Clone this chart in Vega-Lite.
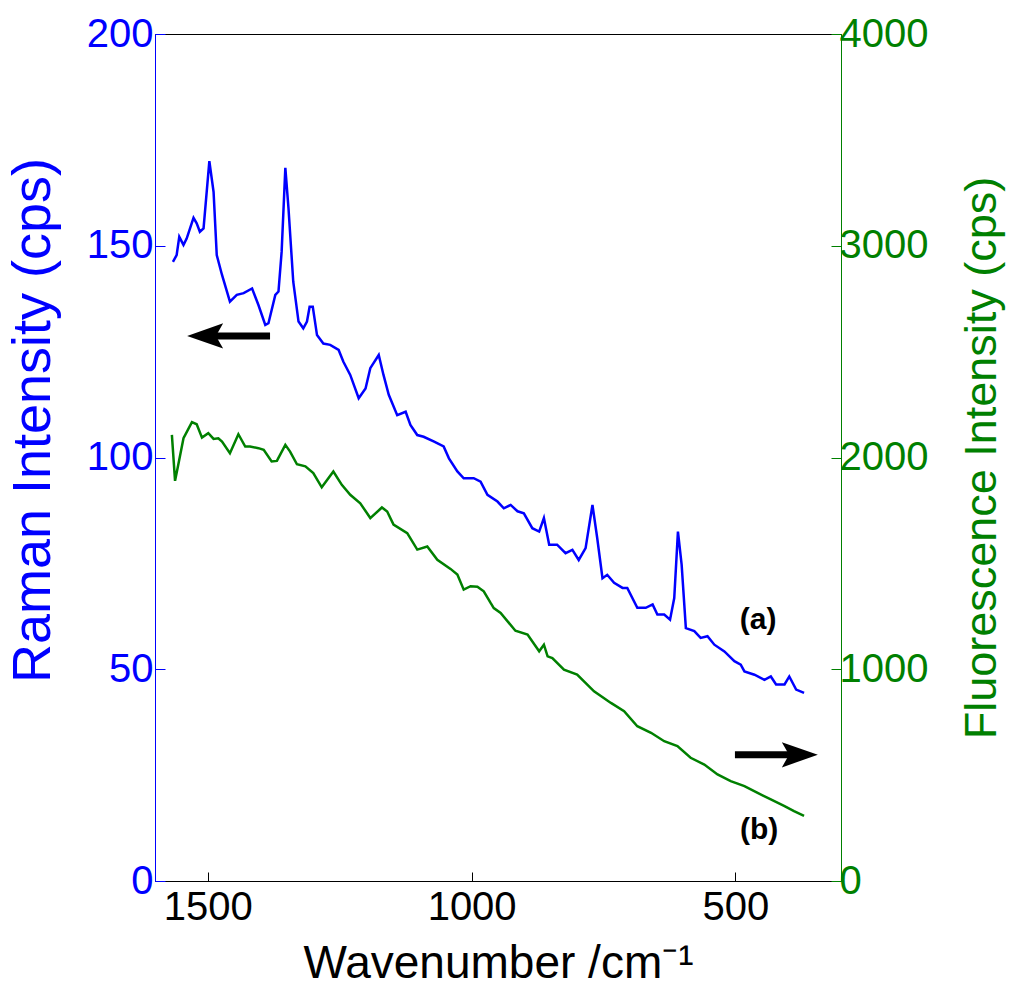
{
  "$schema": "https://vega.github.io/schema/vega-lite/v6.json",
  "width": 686,
  "height": 847,
  "autosize": {"type": "none"},
  "padding": {"left": 155, "top": 34, "right": 169, "bottom": 113},
  "background": "white",
  "config": {
    "view": {"stroke": "black", "strokeWidth": 1},
    "font": "Liberation Sans",
    "axis": {"grid": false, "labelFont": "Liberation Sans", "titleFont": "Liberation Sans", "titleFontWeight": "normal"}
  },
  "datasets": {
    "raman": [
      {"wn":1566,"val":146.2},{"wn":1559,"val":147.8},{"wn":1554,"val":152.1},{"wn":1546,"val":150.2},{"wn":1540,"val":151.7},{"wn":1527,"val":156.6},{"wn":1521,"val":155.3},{"wn":1515,"val":153.3},{"wn":1508,"val":154.1},{"wn":1497,"val":170.0},{"wn":1489,"val":162.7},{"wn":1483,"val":147.8},{"wn":1473,"val":143.1},{"wn":1458,"val":136.8},{"wn":1445,"val":138.4},{"wn":1432,"val":138.8},{"wn":1416,"val":139.9},{"wn":1404,"val":136.0},{"wn":1391,"val":131.3},{"wn":1385,"val":131.7},{"wn":1372,"val":138.4},{"wn":1366,"val":139.2},{"wn":1360,"val":148.6},{"wn":1353,"val":168.4},{"wn":1347,"val":158.8},{"wn":1338,"val":141.5},{"wn":1328,"val":132.1},{"wn":1319,"val":130.5},{"wn":1312,"val":132.1},{"wn":1307,"val":135.6},{"wn":1301,"val":135.6},{"wn":1293,"val":128.9},{"wn":1281,"val":126.9},{"wn":1268,"val":126.6},{"wn":1252,"val":125.4},{"wn":1243,"val":122.6},{"wn":1230,"val":119.5},{"wn":1214,"val":114.0},{"wn":1201,"val":116.3},{"wn":1192,"val":121.1},{"wn":1176,"val":124.2},{"wn":1167,"val":119.5},{"wn":1157,"val":114.8},{"wn":1141,"val":110.0},{"wn":1125,"val":110.8},{"wn":1116,"val":107.7},{"wn":1103,"val":105.3},{"wn":1091,"val":104.9},{"wn":1072,"val":103.8},{"wn":1053,"val":102.6},{"wn":1043,"val":99.8},{"wn":1027,"val":96.7},{"wn":1015,"val":95.1},{"wn":996,"val":95.1},{"wn":983,"val":94.3},{"wn":970,"val":91.2},{"wn":951,"val":89.6},{"wn":939,"val":88.0},{"wn":926,"val":88.8},{"wn":913,"val":87.3},{"wn":901,"val":86.8},{"wn":885,"val":83.3},{"wn":872,"val":82.5},{"wn":863,"val":85.7},{"wn":853,"val":79.4},{"wn":838,"val":79.4},{"wn":822,"val":77.4},{"wn":809,"val":78.2},{"wn":797,"val":75.8},{"wn":784,"val":78.6},{"wn":771,"val":88.8},{"wn":762,"val":81.0},{"wn":752,"val":71.5},{"wn":743,"val":72.3},{"wn":730,"val":70.4},{"wn":714,"val":69.2},{"wn":705,"val":69.2},{"wn":686,"val":64.5},{"wn":670,"val":64.5},{"wn":657,"val":65.3},{"wn":648,"val":62.9},{"wn":635,"val":62.9},{"wn":624,"val":61.7},{"wn":616,"val":66.8},{"wn":609,"val":82.5},{"wn":602,"val":74.7},{"wn":594,"val":59.7},{"wn":578,"val":59.0},{"wn":566,"val":57.4},{"wn":553,"val":57.8},{"wn":540,"val":55.8},{"wn":521,"val":54.2},{"wn":502,"val":51.9},{"wn":490,"val":51.1},{"wn":483,"val":49.5},{"wn":464,"val":48.7},{"wn":445,"val":47.5},{"wn":433,"val":48.3},{"wn":423,"val":46.4},{"wn":407,"val":46.4},{"wn":398,"val":48.3},{"wn":385,"val":45.2},{"wn":370,"val":44.4}
    ],
    "fluor": [
      {"wn":1568,"val":2107},{"wn":1562,"val":1890},{"wn":1556,"val":1965},{"wn":1546,"val":2091},{"wn":1530,"val":2167},{"wn":1521,"val":2157},{"wn":1511,"val":2094},{"wn":1499,"val":2115},{"wn":1489,"val":2088},{"wn":1480,"val":2091},{"wn":1473,"val":2075},{"wn":1458,"val":2020},{"wn":1442,"val":2110},{"wn":1429,"val":2052},{"wn":1420,"val":2052},{"wn":1404,"val":2044},{"wn":1394,"val":2036},{"wn":1379,"val":1981},{"wn":1369,"val":1984},{"wn":1353,"val":2060},{"wn":1344,"val":2028},{"wn":1331,"val":1968},{"wn":1315,"val":1958},{"wn":1300,"val":1926},{"wn":1284,"val":1859},{"wn":1262,"val":1934},{"wn":1246,"val":1871},{"wn":1230,"val":1824},{"wn":1211,"val":1784},{"wn":1192,"val":1714},{"wn":1170,"val":1764},{"wn":1160,"val":1745},{"wn":1148,"val":1683},{"wn":1122,"val":1643},{"wn":1103,"val":1565},{"wn":1084,"val":1580},{"wn":1065,"val":1517},{"wn":1040,"val":1474},{"wn":1027,"val":1447},{"wn":1015,"val":1376},{"wn":1002,"val":1392},{"wn":989,"val":1390},{"wn":977,"val":1368},{"wn":964,"val":1313},{"wn":958,"val":1289},{"wn":945,"val":1266},{"wn":917,"val":1182},{"wn":894,"val":1164},{"wn":872,"val":1085},{"wn":863,"val":1116},{"wn":856,"val":1061},{"wn":847,"val":1053},{"wn":825,"val":998},{"wn":800,"val":975},{"wn":768,"val":896},{"wn":736,"val":841},{"wn":711,"val":802},{"wn":686,"val":731},{"wn":660,"val":700},{"wn":635,"val":660},{"wn":610,"val":637},{"wn":585,"val":582},{"wn":559,"val":550},{"wn":534,"val":503},{"wn":509,"val":472},{"wn":483,"val":448},{"wn":458,"val":416},{"wn":433,"val":385},{"wn":407,"val":354},{"wn":389,"val":330},{"wn":370,"val":307}
    ],
    "shafts": [
      {"wn":1486,"wn2":1382,"val":128.7},
      {"wn":501,"wn2":387,"val":29.8}
    ],
    "heads": [
      {"wn":1505,"val":128.7,"dir":"left"},
      {"wn":378,"val":29.8,"dir":"right"}
    ],
    "labels": [
      {"wn":457,"val":61.6,"label":"(a)"},
      {"wn":455,"val":12.0,"label":"(b)"}
    ]
  },
  "encoding": {
    "x": {
      "field": "wn", "type": "quantitative",
      "scale": {"domain": [300, 1600], "reverse": true, "nice": false, "zero": false},
      "axis": {
        "orient": "bottom", "title": "Wavenumber /cm⁻¹", "values": [500, 1000, 1500], "format": "d",
        "domainColor": "black", "tickColor": "black", "tickSize": -9, "labelColor": "black",
        "labelFontSize": 40, "labelPadding": 15, "titleFontSize": 46, "titleColor": "black", "titlePadding": 14
      }
    }
  },
  "layer": [
    {
      "encoding": {
        "y": {
          "field": "val", "type": "quantitative",
          "scale": {"domain": [0, 200], "nice": false},
          "axis": {
            "orient": "left", "title": "Raman Intensity (cps)", "values": [0, 50, 100, 150, 200], "format": "d",
            "domainColor": "#0000FF", "tickColor": "#0000FF", "tickSize": -10, "labelColor": "#0000FF",
            "labelFontSize": 40, "labelPadding": 12, "titleFontSize": 54, "titleColor": "#0000FF",
            "titlePadding": 26, "titleY": 386
          }
        }
      },
      "layer": [
        {"data": {"name": "raman"}, "mark": {"type": "line", "color": "#0000FF", "strokeWidth": 2.5}},
        {"data": {"name": "shafts"}, "mark": {"type": "rule", "color": "black", "strokeWidth": 7},
         "encoding": {"x2": {"field": "wn2"}}},
        {"data": {"name": "heads"}, "mark": {"type": "point", "filled": true, "color": "black", "opacity": 1, "size": 1296},
         "encoding": {"shape": {"field": "dir", "type": "nominal", "legend": null,
           "scale": {"domain": ["left", "right"], "range": ["M -1 0 L 1 -0.7 L 0.6 0 L 1 0.7 Z", "M 1 0 L -1 -0.7 L -0.6 0 L -1 0.7 Z"]}}}},
        {"data": {"name": "labels"}, "mark": {"type": "text", "font": "Liberation Sans", "fontSize": 30, "fontWeight": "bold", "color": "black"},
         "encoding": {"text": {"field": "label", "type": "nominal"}}}
      ]
    },
    {
      "data": {"name": "fluor"},
      "mark": {"type": "line", "color": "#008000", "strokeWidth": 2.5},
      "encoding": {
        "y": {
          "field": "val", "type": "quantitative",
          "scale": {"domain": [0, 4000], "nice": false},
          "axis": {
            "orient": "right", "title": "Fluorescence Intensity (cps)", "values": [0, 1000, 2000, 3000, 4000], "format": "d",
            "domainColor": "#008000", "tickColor": "#008000", "tickSize": -10, "labelColor": "#008000",
            "labelFontSize": 40, "labelPadding": 8, "titleFontSize": 45, "titleColor": "#008000",
            "titleAngle": 270, "titleBaseline": "top", "titlePadding": 32
          }
        }
      }
    }
  ],
  "resolve": {"scale": {"y": "independent"}}
}
